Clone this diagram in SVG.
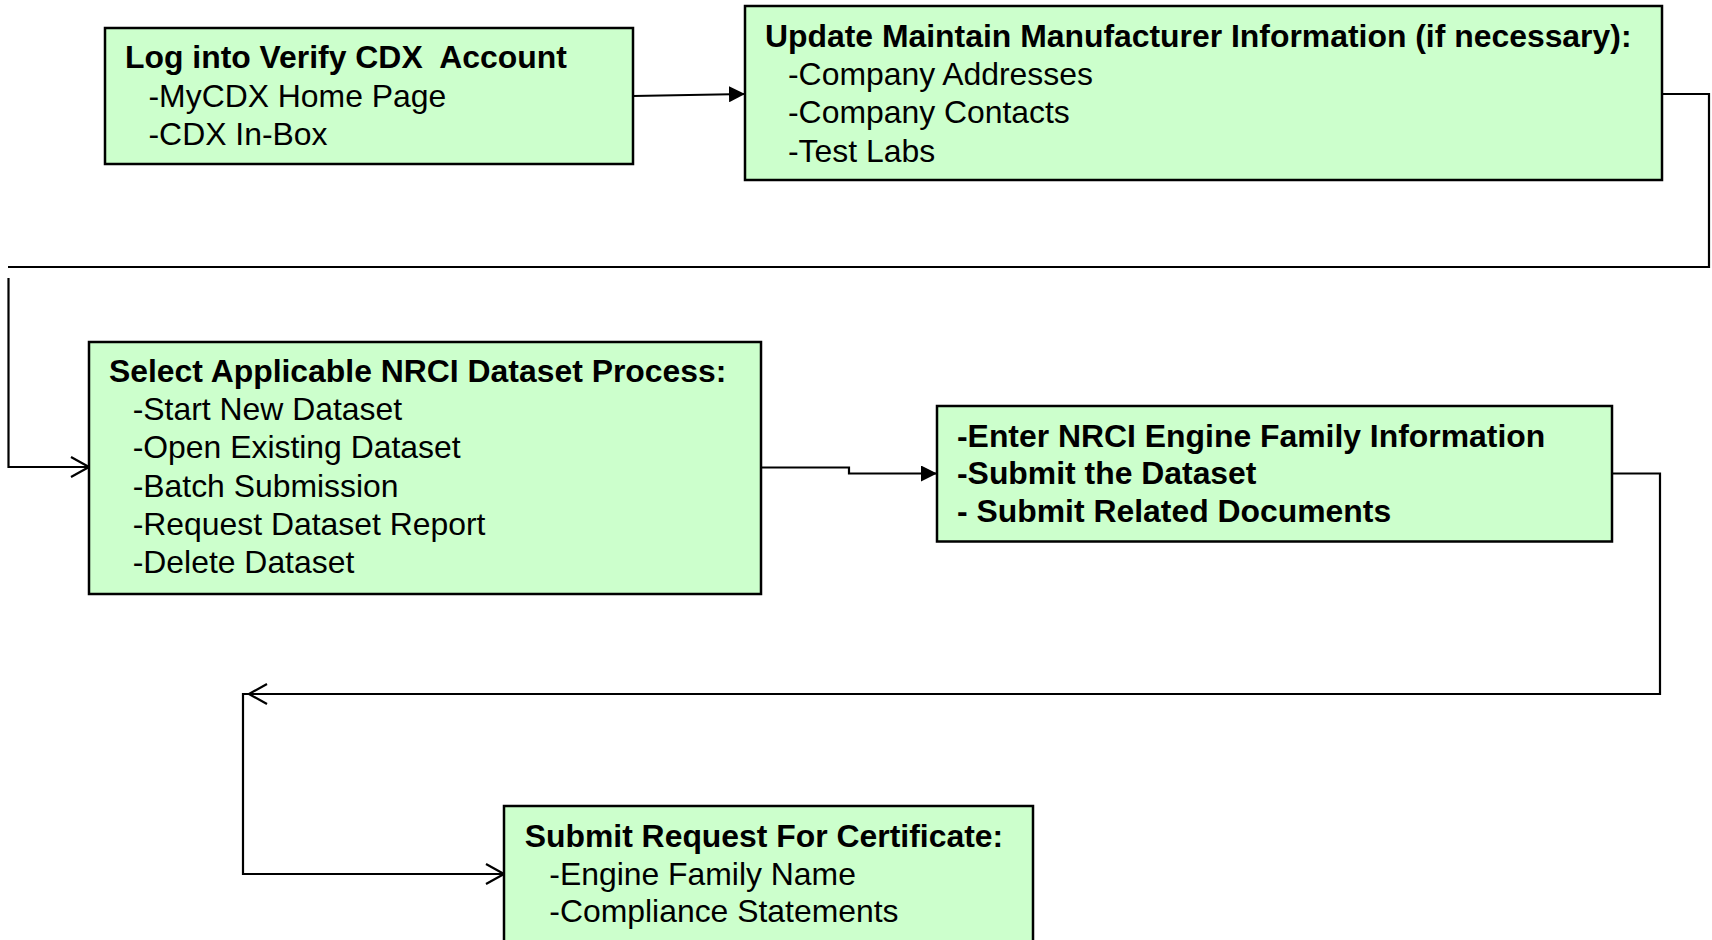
<svg xmlns="http://www.w3.org/2000/svg" width="1712" height="940" viewBox="0 0 1712 940">
<style>
.box{fill:#CCFFCC;stroke:#000;stroke-width:2.5}
text{font-family:"Liberation Sans",Arial,sans-serif;font-size:31.9px;fill:#000;white-space:pre}
.b{font-weight:bold}
.c{fill:none;stroke:#000;stroke-width:2.2}
</style>
<defs>
<marker id="fa" viewBox="0 0 16 16" refX="16" refY="8" markerWidth="16" markerHeight="16" orient="auto" markerUnits="userSpaceOnUse"><path d="M0,0 L16,8 L0,16 z" fill="#000"/></marker>
<marker id="oa" viewBox="0 0 20 22" refX="19" refY="11" markerWidth="20" markerHeight="22" orient="auto" markerUnits="userSpaceOnUse"><path d="M1,1 L19,11 L1,21" fill="none" stroke="#000" stroke-width="2.2"/></marker>
</defs>
<rect width="1712" height="940" fill="#fff"/>
<g id="connectors">
<path class="c" d="M633,96 L745,94" marker-end="url(#fa)"/>
<path class="c" d="M1662,94 H1709 V267 H8"/>
<path class="c" d="M8.5,278 V467 H89" marker-end="url(#oa)"/>
<path class="c" d="M761,467.5 H849 V473.5 H937" marker-end="url(#fa)"/>
<path class="c" d="M1613,473.5 H1660 V694 H249" marker-end="url(#oa)"/>
<path class="c" d="M249,694 H243 V874 H504" marker-end="url(#oa)"/>
</g>
<g id="node-login">
<rect class="box" x="105" y="28" width="528" height="136"/>
<text class="b" x="125" y="68" xml:space="preserve">Log into Verify CDX  Account</text>
<text x="148.5" y="106.5">-MyCDX Home Page</text>
<text x="148.5" y="145">-CDX In-Box</text>
</g>
<g id="node-update">
<rect class="box" x="745" y="6" width="917" height="174"/>
<text class="b" x="765" y="46.7">Update Maintain Manufacturer Information (if necessary):</text>
<text x="788" y="85">-Company Addresses</text>
<text x="788" y="123.3">-Company Contacts</text>
<text x="788" y="161.7">-Test Labs</text>
</g>
<g id="node-select">
<rect class="box" x="89" y="342" width="672" height="252"/>
<text class="b" x="109" y="381.7">Select Applicable NRCI Dataset Process:</text>
<text x="132.7" y="420">-Start New Dataset</text>
<text x="132.7" y="458.3">-Open Existing Dataset</text>
<text x="132.7" y="496.7">-Batch Submission</text>
<text x="132.7" y="535">-Request Dataset Report</text>
<text x="132.7" y="573.3">-Delete Dataset</text>
</g>
<g id="node-enter">
<rect class="box" x="937" y="406" width="675" height="135.5"/>
<text class="b" x="957" y="446.7">-Enter NRCI Engine Family Information</text>
<text class="b" x="957" y="484.3">-Submit the Dataset</text>
<text class="b" x="957" y="521.7">- Submit Related Documents</text>
</g>
<g id="node-request">
<rect class="box" x="504" y="806" width="529" height="140"/>
<text class="b" x="524.7" y="846.7">Submit Request For Certificate:</text>
<text x="549.3" y="885">-Engine Family Name</text>
<text x="549.3" y="921.7">-Compliance Statements</text>
</g>
</svg>
